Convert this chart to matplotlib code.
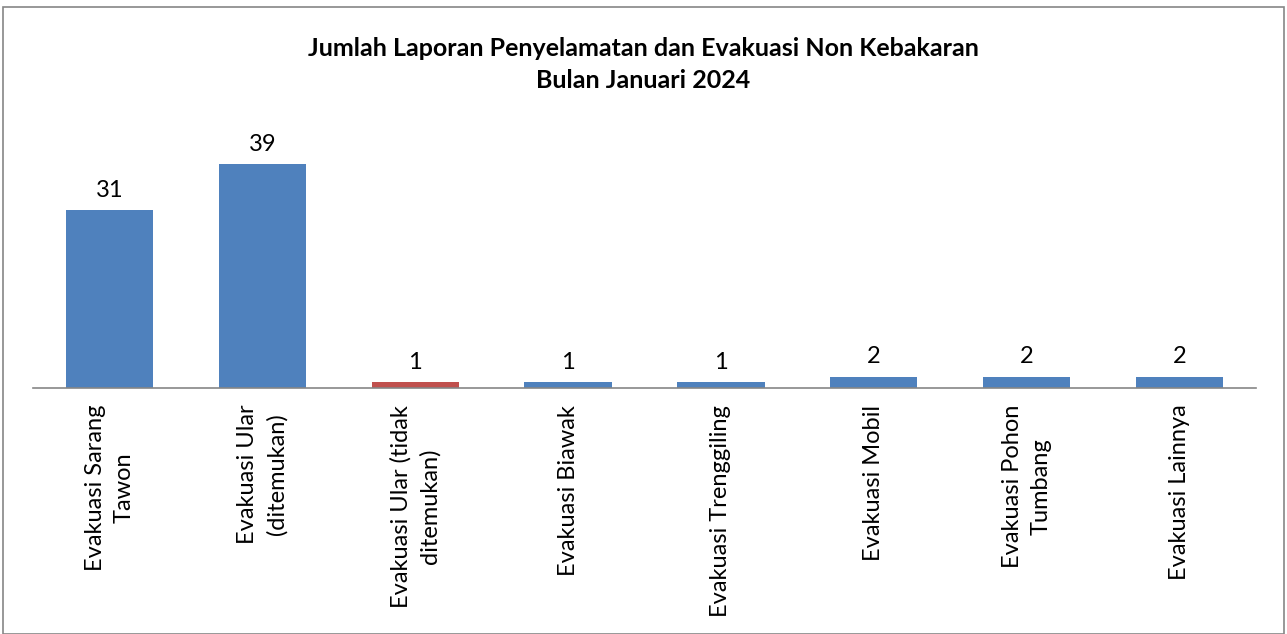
import matplotlib.pyplot as plt
from matplotlib.patches import Rectangle

categories = [
    "Evakuasi Sarang\nTawon",
    "Evakuasi Ular\n(ditemukan)",
    "Evakuasi Ular (tidak\nditemukan)",
    "Evakuasi Biawak",
    "Evakuasi Trenggiling",
    "Evakuasi Mobil",
    "Evakuasi Pohon\nTumbang",
    "Evakuasi Lainnya",
]
values = [31, 39, 1, 1, 1, 2, 2, 2]
colors = ["#4F81BD", "#4F81BD", "#C0504D", "#4F81BD",
          "#4F81BD", "#4F81BD", "#4F81BD", "#4F81BD"]

plt.rcParams['font.family'] = ['Lato', 'DejaVu Sans']

fig = plt.figure(figsize=(12.87, 6.34), dpi=100)
ax = fig.add_axes([33 / 1287, 246 / 634, 1223 / 1287, 258 / 634])

x = range(len(categories))
bars = ax.bar(x, values, width=0.57, color=colors)
for b, v in zip(bars, values):
    ax.text(b.get_x() + b.get_width() / 2, v + 1.6, str(v),
            ha='center', va='bottom', fontsize=17)

ax.set_xlim(-0.5, len(categories) - 0.5)
ax.set_ylim(0, 45)
ax.set_yticks([])
ax.set_xticks(list(x))
ax.set_xticklabels(categories, rotation=90, fontsize=17, ha='center',
                   va='top', multialignment='center', linespacing=1.45)
ax.tick_params(axis='x', length=0, pad=12)
for s in ['top', 'left', 'right']:
    ax.spines[s].set_visible(False)
ax.spines['bottom'].set_color('#868686')
ax.spines['bottom'].set_linewidth(1.2)

fig.text(0.5, 1 - 48 / 634, "Jumlah Laporan Penyelamatan dan Evakuasi Non Kebakaran",
         ha='center', va='center', fontsize=18, fontweight='bold')
fig.text(0.5, 1 - 80 / 634, "Bulan Januari 2024",
         ha='center', va='center', fontsize=18, fontweight='bold')

fig.patches.append(Rectangle((3 / 1287, 0), 1281 / 1287, 1 - 7 / 634,
                             transform=fig.transFigure, fill=False,
                             edgecolor='#868686', linewidth=1.2))

fig.savefig("out.png", dpi=100)
